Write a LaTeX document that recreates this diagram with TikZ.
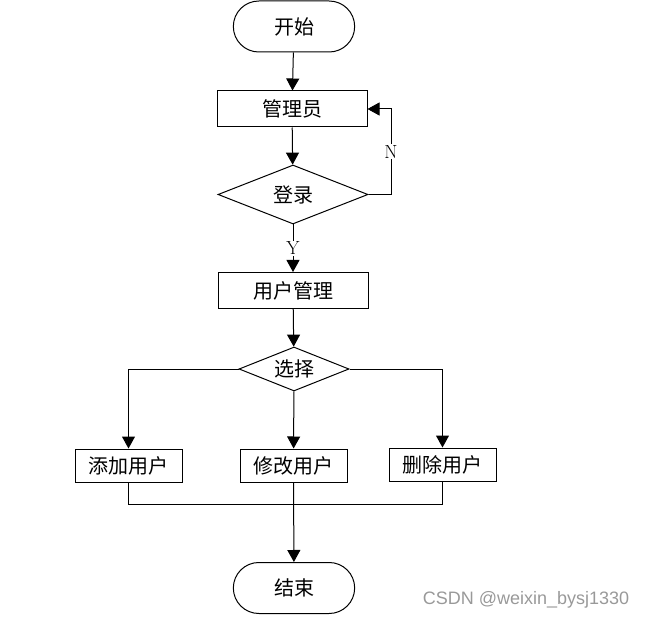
\documentclass[tikz,border=0pt]{standalone}
\usepackage{fontspec}
\newfontfamily\cjk{Noto Sans CJK SC}
\setsansfont{Liberation Sans}
\usetikzlibrary{arrows.meta,shapes.geometric,shapes.misc}
\begin{document}
\begin{tikzpicture}[x=1pt,y=-1pt,
  line width=1pt,
  every node/.style={font=\cjk\fontsize{20}{22}\selectfont, line width=1pt},
  term/.style={draw, rounded rectangle, minimum width=128pt, minimum height=51pt},
  procbox/.style={draw, rectangle, minimum width=150pt, minimum height=36pt},
  smallbox/.style={draw, rectangle, minimum width=107pt, minimum height=33pt},
  decide/.style={draw, diamond, aspect=2.5, inner sep=0pt},
  arr/.style={-{Triangle[width=13pt,length=12pt]}},
  lbl/.style={font=\fontsize{19}{21}\selectfont}
]
\useasboundingbox (0,0) rectangle (648,620);
\node[term] (start) at (294,26.5) {开始};
\node[procbox] (admin) at (292,109) {管理员};
\node[decide, minimum width=150pt, minimum height=59pt] (login) at (293,194.5) {登录};
\node[procbox] (um) at (293,290.5) {用户管理};
\node[decide, minimum width=110pt, minimum height=44pt] (sel) at (294,369) {选择};
\node[smallbox] (add) at (128.5,465.5) {添加用户};
\node[smallbox] (mod) at (293.5,465.5) {修改用户};
\node[smallbox] (del) at (442.5,464.5) {删除用户};
\node[term] (end) at (294,588) {结束};
\node[font=\sffamily\fontsize{18}{20}\selectfont, text=black!40, anchor=east] (wm) at (633,600) {CSDN @weixin\_bysj1330};

\coordinate (loopA) at (391,194.5);
\coordinate (loopB) at (391,109);
\coordinate (mergeL) at (128.5,504);
\coordinate (mergeR) at (442.5,504);
\coordinate (selL) at (128.5,369);
\coordinate (selR) at (442.5,369);

\draw[arr] (start) -- (admin);
\draw[arr] (admin) -- (login);
\draw[arr] (login.east) -- (loopA) -- node[lbl, fill=white, inner sep=1pt] (nlab) {N} (loopB) -- (admin.east);
\draw[arr] (login) -- node[lbl, fill=white, inner sep=1pt] (ylab) {Y} (um);
\draw[arr] (um) -- (sel);
\draw[arr] (sel.west) -- (selL) -- (add);
\draw[arr] (sel.east) -- (selR) -- (del);
\draw[arr] (sel) -- (mod);
\draw (add) -- (mergeL) -- (mergeR) -- (del);
\draw[arr] (mod) -- (end);
\end{tikzpicture}
\end{document}
